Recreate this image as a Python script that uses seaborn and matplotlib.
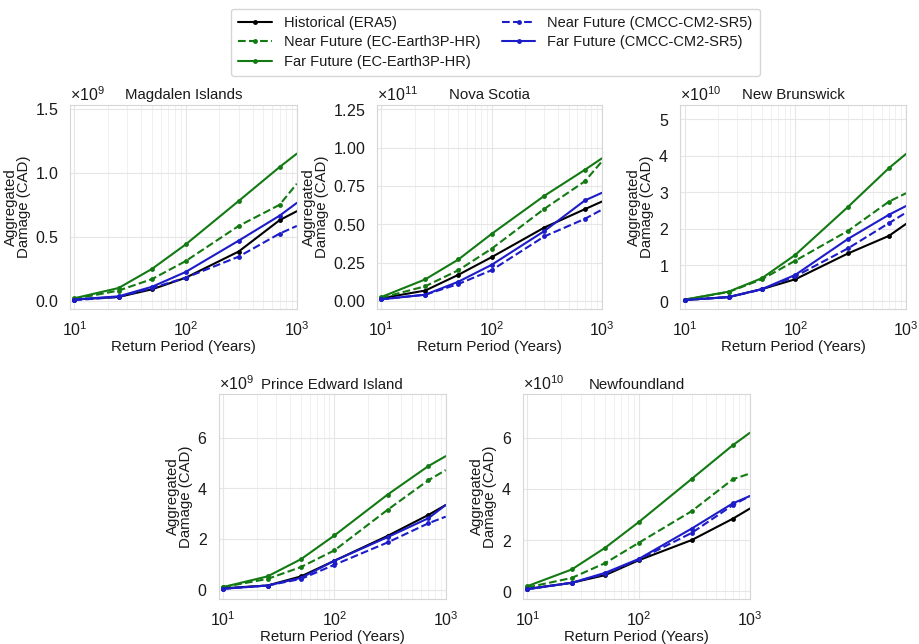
import numpy as np
import pandas as pd
import matplotlib
matplotlib.use("Agg")
import matplotlib.pyplot as plt
import matplotlib.ticker as mticker
import seaborn as sns

# Return periods (years); last point sits on the right edge of the axis
periods = [10, 25, 50, 100, 300, 700, 1000]

series_names = [
    "Historical (ERA5)",
    "Near Future (EC-Earth3P-HR)",
    "Far Future (EC-Earth3P-HR)",
    "Near Future (CMCC-CM2-SR5)",
    "Far Future (CMCC-CM2-SR5)",
]

# Aggregated damage per region, in units of the axis offset (see exponents)
magdalen = {
    "Historical (ERA5)":           [0.01, 0.03, 0.09, 0.18, 0.385, 0.63, 0.70],
    "Near Future (EC-Earth3P-HR)": [0.015, 0.08, 0.17, 0.31, 0.585, 0.75, 0.915],
    "Far Future (EC-Earth3P-HR)":  [0.02, 0.10, 0.25, 0.44, 0.78, 1.045, 1.15],
    "Near Future (CMCC-CM2-SR5)":  [0.005, 0.03, 0.10, 0.18, 0.345, 0.525, 0.585],
    "Far Future (CMCC-CM2-SR5)":   [0.01, 0.035, 0.11, 0.225, 0.47, 0.665, 0.765],
}
nova_scotia = {
    "Historical (ERA5)":           [0.017, 0.067, 0.17, 0.285, 0.478, 0.598, 0.648],
    "Near Future (EC-Earth3P-HR)": [0.02, 0.095, 0.20, 0.34, 0.60, 0.78, 0.91],
    "Far Future (EC-Earth3P-HR)":  [0.025, 0.14, 0.27, 0.437, 0.685, 0.855, 0.93],
    "Near Future (CMCC-CM2-SR5)":  [0.01, 0.04, 0.11, 0.20, 0.42, 0.535, 0.595],
    "Far Future (CMCC-CM2-SR5)":   [0.01, 0.04, 0.125, 0.235, 0.455, 0.655, 0.705],
}
new_brunswick = {
    "Historical (ERA5)":           [0.04, 0.12, 0.34, 0.61, 1.32, 1.80, 2.13],
    "Near Future (EC-Earth3P-HR)": [0.05, 0.26, 0.61, 1.12, 1.94, 2.74, 2.97],
    "Far Future (EC-Earth3P-HR)":  [0.05, 0.27, 0.64, 1.28, 2.60, 3.66, 4.05],
    "Near Future (CMCC-CM2-SR5)":  [0.04, 0.12, 0.33, 0.69, 1.46, 2.15, 2.44],
    "Far Future (CMCC-CM2-SR5)":   [0.04, 0.12, 0.34, 0.73, 1.72, 2.38, 2.62],
}
pei = {
    "Historical (ERA5)":           [0.05, 0.16, 0.52, 1.14, 2.12, 2.95, 3.34],
    "Near Future (EC-Earth3P-HR)": [0.10, 0.42, 0.89, 1.55, 3.15, 4.32, 4.72],
    "Far Future (EC-Earth3P-HR)":  [0.10, 0.52, 1.20, 2.14, 3.75, 4.88, 5.27],
    "Near Future (CMCC-CM2-SR5)":  [0.03, 0.16, 0.42, 0.98, 1.86, 2.62, 2.88],
    "Far Future (CMCC-CM2-SR5)":   [0.03, 0.16, 0.46, 1.14, 2.07, 2.82, 3.34],
}
newfoundland = {
    "Historical (ERA5)":           [0.09, 0.33, 0.63, 1.21, 2.00, 2.83, 3.23],
    "Near Future (EC-Earth3P-HR)": [0.15, 0.52, 1.10, 1.89, 3.13, 4.37, 4.60],
    "Far Future (EC-Earth3P-HR)":  [0.20, 0.85, 1.70, 2.70, 4.39, 5.70, 6.19],
    "Near Future (CMCC-CM2-SR5)":  [0.08, 0.33, 0.68, 1.24, 2.28, 3.36, 3.72],
    "Far Future (CMCC-CM2-SR5)":   [0.08, 0.33, 0.72, 1.26, 2.45, 3.43, 3.72],
}

regions = ["Magdalen Islands", "Nova Scotia", "New Brunswick",
           "Prince Edward Island", "Newfoundland"]
region_data = [magdalen, nova_scotia, new_brunswick, pei, newfoundland]
exponents = [9, 11, 10, 9, 10]
y_limits = [(-0.065, 1.53), (-0.054, 1.278), (-0.21, 5.39), (-0.37, 7.72), (-0.3, 7.7)]
y_steps = [0.5, 0.25, 1, 2, 2]

colors = {
    "Historical (ERA5)": "black",
    "Near Future (EC-Earth3P-HR)": "#137a13",
    "Far Future (EC-Earth3P-HR)": "#137a13",
    "Near Future (CMCC-CM2-SR5)": "#1c1cc8",
    "Far Future (CMCC-CM2-SR5)": "#1c1cc8",
}
styles = {
    "Historical (ERA5)": "-",
    "Near Future (EC-Earth3P-HR)": "--",
    "Far Future (EC-Earth3P-HR)": "-",
    "Near Future (CMCC-CM2-SR5)": "--",
    "Far Future (CMCC-CM2-SR5)": "-",
}

sns.set_theme(style="whitegrid")
plt.rcParams["font.family"] = ["Liberation Sans", "DejaVu Sans"]
plt.rcParams["mathtext.fontset"] = "custom"
plt.rcParams["mathtext.rm"] = "Liberation Sans"
plt.rcParams["text.color"] = "#1a1a1a"
plt.rcParams["axes.labelcolor"] = "#1a1a1a"
plt.rcParams["xtick.color"] = "#1a1a1a"
plt.rcParams["ytick.color"] = "#1a1a1a"

fig = plt.figure(figsize=(9.19, 6.44), dpi=100)

# Axes positions (left, bottom, width, height) in figure fraction
rects = [
    [0.076, 0.520, 0.247, 0.317],
    [0.410, 0.520, 0.245, 0.317],
    [0.740, 0.520, 0.246, 0.317],
    [0.238, 0.070, 0.247, 0.318],
    [0.569, 0.070, 0.247, 0.318],
]

TICK_FS = 11.5
LABEL_FS = 10.8

for i, (name, data) in enumerate(zip(regions, region_data)):
    ax = fig.add_axes(rects[i])
    scale = 10.0 ** exponents[i]
    for s in series_names:
        df = pd.DataFrame({"period": periods, "damage": np.array(data[s]) * scale})
        sns.lineplot(data=df, x="period", y="damage", ax=ax, color=colors[s],
                     linestyle=styles[s], marker="o", markersize=3.5,
                     markeredgewidth=0, linewidth=1.5, label=s,
                     markevery=list(range(len(periods) - 1)), legend=False)
    ax.set_xscale("log")
    ax.set_xlim(9.1, 1000)
    lo, hi = y_limits[i]
    ax.set_ylim(lo * scale, hi * scale)
    ax.yaxis.set_major_locator(mticker.MultipleLocator(y_steps[i] * scale))
    fmt = mticker.ScalarFormatter(useMathText=True)
    fmt.set_powerlimits((0, 0))
    ax.yaxis.set_major_formatter(fmt)
    ax.yaxis.get_offset_text().set_fontsize(TICK_FS)
    ax.xaxis.set_major_locator(mticker.LogLocator(base=10, numticks=5))
    ax.xaxis.set_minor_locator(mticker.LogLocator(base=10, subs=np.arange(2, 10), numticks=10))
    ax.grid(True, which="major", color="#e6e6e6", linewidth=0.8)
    ax.grid(True, which="minor", axis="x", color="#eeeeee", linewidth=0.6)
    ax.tick_params(axis="both", which="major", labelsize=TICK_FS, pad=2)
    ax.tick_params(axis="both", which="minor", length=0)
    for sp in ax.spines.values():
        sp.set_color("#d6d6d6")
        sp.set_linewidth(0.8)
    ax.set_xlabel("Return Period (Years)", fontsize=LABEL_FS, labelpad=1)
    ax.set_ylabel("Aggregated\nDamage (CAD)", fontsize=LABEL_FS, labelpad=3, linespacing=0.9)
    ax.set_title(name, fontsize=LABEL_FS, pad=4, y=1.0)
    if i == 0:
        handles, labels = ax.get_legend_handles_labels()

leg = fig.legend(handles, labels, loc="upper center", bbox_to_anchor=(0.539, 0.998),
                 ncol=2, fontsize=10.5, frameon=True, handlelength=2.3,
                 columnspacing=1.5, labelspacing=0.38, borderpad=0.5)
leg.get_frame().set_edgecolor("#cccccc")

fig.savefig("out.png", dpi=100)
